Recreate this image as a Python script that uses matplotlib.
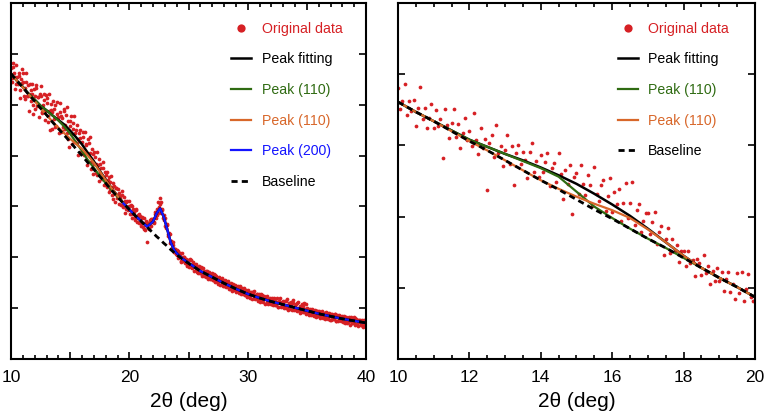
import numpy as np
import matplotlib
matplotlib.use("Agg")
import matplotlib.pyplot as plt
from matplotlib.ticker import MultipleLocator

plt.rcParams['font.family'] = ['Liberation Sans', 'DejaVu Sans']

RED = '#d62024'
GREEN = '#2f6b12'
ORANGE = '#d8672a'
BLUE = '#1414ff'

# ---------------- left panel (10-40 deg) ----------------
left_x = [10, 10.5, 11, 11.5, 12, 12.5, 13, 13.5, 14, 14.5, 15, 15.5, 16, 16.5, 17, 17.5,
          18, 18.5, 19, 19.5, 20, 20.5, 21, 21.5, 22, 22.3, 22.6, 22.9, 23.2, 23.5, 23.8,
          24, 24.5, 25, 26, 27, 28, 29, 30, 31, 32, 33, 34, 35, 36, 37, 38, 39, 40]
left_baseline = [5.61, 5.47, 5.34, 5.20, 5.07, 4.93, 4.80, 4.66, 4.53, 4.40, 4.27, 4.13, 4.00,
                 3.86, 3.73, 3.59, 3.46, 3.32, 3.19, 3.06, 2.94, 2.82, 2.71, 2.59, 2.48, 2.41,
                 2.35, 2.28, 2.22, 2.15, 2.09, 2.05, 1.96, 1.88, 1.73, 1.61, 1.49, 1.38, 1.28,
                 1.20, 1.13, 1.07, 1.01, 0.95, 0.89, 0.84, 0.79, 0.75, 0.71]
left_fit = [5.61, 5.47, 5.35, 5.21, 5.10, 4.98, 4.89, 4.79, 4.70, 4.61, 4.49, 4.36, 4.22,
            4.05, 3.89, 3.70, 3.53, 3.36, 3.21, 3.07, 2.94, 2.82, 2.71, 2.60, 2.70, 2.86,
            2.96, 2.80, 2.55, 2.29, 2.14, 2.08, 1.97, 1.89, 1.73, 1.61, 1.49, 1.38, 1.28,
            1.20, 1.13, 1.07, 1.01, 0.95, 0.89, 0.84, 0.79, 0.75, 0.71]

# the two (110) components only over 10-20
left_x110 = [10, 10.5, 11, 11.5, 12, 12.5, 13, 13.5, 14, 14.5, 15, 15.5, 16, 16.5, 17, 17.5,
             18, 18.5, 19, 19.5, 20]
left_green = [5.61, 5.47, 5.35, 5.21, 5.10, 4.98, 4.89, 4.79, 4.69, 4.57, 4.43, 4.26, 4.09,
              3.91, 3.76, 3.60, 3.46, 3.32, 3.19, 3.06, 2.94]
left_orange = [5.61, 5.47, 5.34, 5.20, 5.07, 4.93, 4.80, 4.67, 4.55, 4.44, 4.33, 4.23, 4.13,
               4.00, 3.86, 3.69, 3.52, 3.36, 3.21, 3.07, 2.94]

# (200) component from 19.5 on
left_x200 = [19.5, 20, 20.5, 21, 21.5, 22, 22.3, 22.6, 22.9, 23.2, 23.5, 23.8, 24, 24.5, 25,
             26, 27, 28, 29, 30, 31, 32, 33, 34, 35, 36, 37, 38, 39, 40]
left_blue = [3.06, 2.94, 2.82, 2.71, 2.60, 2.70, 2.86, 2.96, 2.80, 2.55, 2.29, 2.14, 2.08,
             1.97, 1.89, 1.73, 1.61, 1.49, 1.38, 1.28, 1.20, 1.13, 1.07, 1.01, 0.95, 0.89,
             0.84, 0.79, 0.75, 0.71]

# measured points, 0.05 deg step (two interleaved scans)
left_data_x = np.linspace(10, 40, 301)
left_data_y = [
    5.73, 5.53, 5.75, 5.55, 5.40, 5.55, 5.43, 5.57, 5.28, 5.42,
    5.45, 5.18, 5.33, 5.44, 5.18, 5.21, 5.41, 5.07, 5.21, 4.82,
    5.18, 5.33, 4.98, 5.16, 4.98, 5.17, 4.84, 4.99, 5.21, 4.87,
    5.03, 4.77, 4.88, 4.51, 5.01, 4.85, 4.72, 4.99, 4.59, 4.82,
    4.74, 4.85, 4.46, 4.74, 4.57, 4.87, 4.61, 4.45, 4.68, 4.16,
    4.59, 4.42, 4.65, 4.28, 4.45, 4.51, 4.25, 4.32, 4.51, 4.08,
    4.27, 4.37, 4.04, 4.21, 4.05, 4.32, 3.88, 4.06, 3.73, 4.04,
    3.83, 3.98, 3.83, 3.62, 3.94, 3.66, 3.76, 3.53, 3.75, 3.56,
    3.61, 3.38, 3.51, 3.57, 3.32, 3.39, 3.15, 3.40, 3.25, 3.36,
    3.16, 3.27, 3.17, 3.03, 3.23, 3.04, 3.10, 2.94, 3.10, 2.95,
    3.01, 2.86, 3.00, 2.85, 2.90, 2.73, 2.92, 2.78, 2.68, 2.81,
    2.67, 2.77, 2.56, 2.67, 2.71, 2.30, 2.67, 2.58, 2.75, 2.69,
    2.75, 2.69, 2.89, 2.83, 3.08, 2.98, 3.16, 2.87, 2.92, 2.73,
    2.78, 2.58, 2.63, 2.42, 2.45, 2.32, 2.18, 2.24, 2.11, 2.17,
    2.04, 2.13, 2.01, 2.06, 1.91, 2.00, 2.01, 1.88, 1.93, 1.84,
    1.94, 1.84, 1.94, 1.78, 1.85, 1.87, 1.75, 1.81, 1.69, 1.79,
    1.70, 1.78, 1.66, 1.73, 1.69, 1.61, 1.73, 1.63, 1.68, 1.58,
    1.65, 1.55, 1.66, 1.55, 1.59, 1.48, 1.59, 1.54, 1.47, 1.56,
    1.44, 1.51, 1.53, 1.42, 1.47, 1.38, 1.47, 1.39, 1.44, 1.36,
    1.43, 1.35, 1.40, 1.29, 1.37, 1.39, 1.28, 1.33, 1.25, 1.33,
    1.25, 1.32, 1.20, 1.28, 1.32, 1.20, 1.26, 1.20, 1.27, 1.16,
    1.24, 1.16, 1.25, 1.13, 1.19, 1.22, 1.13, 1.09, 1.18, 1.15,
    1.09, 1.17, 1.10, 1.18, 1.06, 1.13, 1.03, 1.13, 1.10, 1.05,
    1.12, 1.03, 1.14, 1.01, 1.07, 1.10, 0.98, 1.06, 1.11, 1.00,
    1.05, 0.96, 1.10, 0.97, 1.05, 0.93, 1.00, 1.04, 0.93, 1.08,
    0.92, 0.99, 0.88, 0.95, 0.89, 0.96, 0.84, 0.94, 0.88, 0.95,
    0.84, 0.91, 0.86, 0.93, 0.81, 0.88, 0.82, 0.90, 0.82, 0.85,
    0.88, 0.78, 0.85, 0.79, 0.88, 0.75, 0.84, 0.78, 0.84, 0.74,
    0.82, 0.73, 0.83, 0.76, 0.71, 0.81, 0.74, 0.82, 0.71, 0.78,
    0.71, 0.80, 0.68, 0.76, 0.72, 0.77, 0.66, 0.75, 0.67, 0.74,
    0.68]
left_data2_x = np.linspace(10.05, 39.95, 300)
left_data2_y = [
    5.45, 5.82, 5.62, 5.30, 5.79, 5.41, 5.62, 5.13, 5.51, 5.71,
    5.62, 5.11, 5.63, 5.17, 5.38, 4.88, 5.28, 5.41, 4.99, 5.31,
    4.91, 5.39, 5.16, 4.76, 5.21, 5.37, 4.85, 5.10, 4.70, 5.20,
    5.13, 4.66, 5.22, 4.90, 4.52, 5.08, 4.91, 4.57, 5.06, 4.76,
    4.44, 5.03, 4.78, 4.49, 4.92, 4.52, 4.80, 4.95, 4.33, 4.68,
    4.78, 4.23, 4.53, 4.78, 4.26, 4.60, 4.02, 4.44, 4.35, 4.06,
    4.47, 4.02, 4.47, 4.22, 3.82, 4.24, 4.37, 3.87, 4.12, 3.63,
    4.07, 3.65, 4.08, 3.82, 3.50, 3.84, 3.57, 3.87, 3.43, 3.67,
    3.42, 3.68, 3.29, 3.49, 3.60, 3.23, 3.47, 3.09, 3.36, 3.17,
    3.34, 3.05, 3.20, 3.30, 2.99, 3.18, 2.88, 3.09, 2.93, 3.11,
    2.85, 3.03, 2.77, 2.94, 2.80, 2.95, 2.69, 2.83, 2.86, 2.62,
    2.80, 2.60, 2.77, 2.53, 2.66, 2.68, 2.56, 2.74, 2.61, 2.76,
    2.67, 2.86, 2.78, 2.94, 2.88, 3.05, 3.08, 2.94, 2.77, 2.84,
    2.62, 2.66, 2.45, 2.48, 2.29, 2.32, 2.30, 2.11, 2.17, 2.06,
    2.15, 1.99, 2.08, 1.92, 2.08, 1.92, 2.01, 1.97, 1.83, 1.95,
    1.81, 1.96, 1.81, 1.90, 1.74, 1.85, 1.87, 1.71, 1.83, 1.69,
    1.80, 1.64, 1.79, 1.64, 1.74, 1.71, 1.58, 1.71, 1.57, 1.70,
    1.55, 1.67, 1.51, 1.63, 1.51, 1.62, 1.45, 1.57, 1.59, 1.44,
    1.56, 1.41, 1.52, 1.54, 1.38, 1.49, 1.34, 1.48, 1.35, 1.45,
    1.31, 1.44, 1.31, 1.43, 1.27, 1.37, 1.39, 1.25, 1.36, 1.22,
    1.35, 1.21, 1.32, 1.18, 1.29, 1.33, 1.17, 1.27, 1.14, 1.28,
    1.13, 1.27, 1.14, 1.24, 1.09, 1.21, 1.23, 1.10, 1.20, 1.08,
    1.20, 1.06, 1.19, 1.06, 1.19, 1.03, 1.15, 1.19, 1.02, 1.15,
    1.01, 1.15, 1.00, 1.17, 0.97, 1.10, 1.13, 0.96, 1.16, 0.97,
    1.09, 0.94, 1.12, 1.01, 0.91, 1.08, 0.92, 1.11, 0.99, 0.89,
    1.01, 0.87, 0.98, 0.87, 0.99, 0.87, 0.97, 0.82, 0.95, 0.85,
    0.94, 0.81, 0.94, 0.82, 0.91, 0.78, 0.93, 0.79, 0.90, 0.77,
    0.77, 0.89, 0.78, 0.89, 0.74, 0.86, 0.75, 0.87, 0.76, 0.85,
    0.73, 0.85, 0.70, 0.83, 0.72, 0.83, 0.67, 0.80, 0.70, 0.82,
    0.67, 0.79, 0.69, 0.65, 0.77, 0.66, 0.76, 0.62, 0.77, 0.65]

# ---------------- right panel (10-20 deg) ----------------
right_x = [10, 10.5, 11, 11.5, 12, 12.5, 13, 13.5, 14, 14.5, 15, 15.5, 16, 16.5, 17, 17.5,
           18, 18.5, 19, 19.5, 20]
right_baseline = [3.61, 3.47, 3.34, 3.20, 3.06, 2.93, 2.79, 2.65, 2.51, 2.38, 2.24, 2.10,
                  1.97, 1.83, 1.69, 1.56, 1.42, 1.28, 1.14, 1.01, 0.87]
right_fit = [3.61, 3.47, 3.34, 3.21, 3.08, 2.98, 2.88, 2.79, 2.69, 2.58, 2.46, 2.32, 2.17,
             2.01, 1.83, 1.64, 1.45, 1.28, 1.14, 1.01, 0.87]
right_green = [3.61, 3.47, 3.34, 3.21, 3.08, 2.98, 2.88, 2.78, 2.68, 2.56, 2.35, 2.14, 1.98,
               1.83, 1.69, 1.56, 1.42, 1.28, 1.14, 1.01, 0.87]
right_orange = [3.61, 3.47, 3.34, 3.20, 3.06, 2.93, 2.79, 2.65, 2.51, 2.39, 2.28, 2.18, 2.09,
                1.98, 1.82, 1.64, 1.45, 1.28, 1.14, 1.01, 0.87]

right_data_x = np.linspace(10, 20, 161)
right_data_y = [
    3.81, 3.51, 3.63, 3.86, 3.42, 3.63, 3.48, 3.64, 3.27, 3.52, 3.82, 3.37, 3.53, 3.24, 3.39, 3.58,
    3.24, 3.50, 3.27, 3.37, 2.83, 3.51, 3.29, 3.11, 3.31, 3.51, 3.12, 3.30, 2.96, 3.17, 3.39, 3.08,
    3.20, 2.99, 3.46, 3.07, 2.88, 3.24, 2.96, 3.09, 2.38, 3.03, 3.14, 2.84, 3.28, 2.89, 2.99, 2.71,
    2.93, 3.15, 2.74, 2.99, 2.45, 2.90, 3.01, 2.74, 2.91, 2.79, 2.54, 2.91, 3.04, 2.63, 2.78, 2.55,
    2.87, 2.63, 2.76, 2.90, 2.43, 2.68, 2.75, 2.49, 2.90, 2.60, 2.25, 2.65, 2.46, 2.72, 2.04, 2.56,
    2.61, 2.32, 2.72, 2.46, 2.31, 2.59, 2.45, 2.15, 2.70, 2.32, 2.22, 2.44, 2.52, 2.08, 2.29, 2.54,
    2.07, 2.35, 2.18, 2.39, 1.94, 2.19, 2.47, 1.98, 2.19, 2.48, 1.88, 2.09, 2.17, 1.78, 1.94, 2.05,
    2.05, 1.75, 1.93, 2.06, 1.62, 1.79, 1.87, 1.46, 1.69, 1.84, 1.49, 1.69, 1.51, 1.60, 1.36, 1.52,
    1.51, 1.31, 1.51, 1.35, 1.39, 1.17, 1.41, 1.35, 1.18, 1.46, 1.21, 1.30, 1.06, 1.24, 1.09, 1.28,
    1.09, 1.22, 0.95, 1.13, 1.22, 0.94, 1.06, 0.84, 1.21, 0.93, 1.22, 0.81, 0.99, 1.20, 0.87, 0.81,
    0.83]


def style_axes(ax, xmin, xmax, ymax, major, minor, labels_every):
    ax.set_xlim(xmin, xmax)
    ax.set_ylim(0, ymax)
    ax.xaxis.set_major_locator(MultipleLocator(major))
    ax.xaxis.set_minor_locator(MultipleLocator(minor))
    ax.yaxis.set_major_locator(MultipleLocator(1))
    ax.tick_params(which='both', direction='in', top=True, right=True, width=1.2)
    ax.tick_params(which='major', length=5, labelsize=12.5, pad=8)
    ax.tick_params(which='minor', length=3)
    ax.set_yticklabels([])
    ax.xaxis.set_major_formatter(
        plt.FuncFormatter(lambda v, p: f"{v:g}" if abs(v / labels_every - round(v / labels_every)) < 1e-6 else ""))
    for s in ax.spines.values():
        s.set_linewidth(1.5)
    ax.set_xlabel("2θ (deg)", fontsize=15, labelpad=5)


def add_legend(ax, handles, x0):
    leg = ax.legend(handles=handles, loc='upper left', bbox_to_anchor=(x0, 0.948),
                    frameon=False, fontsize=10.2, handlelength=1.4, handletextpad=0.75,
                    labelspacing=1.18, borderpad=0, borderaxespad=0, numpoints=1,
                    markerscale=2.2, labelcolor='linecolor')
    return leg


fig = plt.figure(figsize=(7.67, 4.19), dpi=100)
ax1 = fig.add_axes([11 / 767, 60 / 419, 355 / 767, 356 / 419])
ax2 = fig.add_axes([398 / 767, 60 / 419, 357 / 767, 356 / 419])

dash = (0, (2.2, 1.5))

# left
d1, = ax1.plot(left_data_x, left_data_y, 'o', color=RED, ms=2.7, mew=0, label='Original data')
ax1.plot(left_data2_x, left_data2_y, 'o', color=RED, ms=2.7, mew=0)
f1, = ax1.plot(left_x, left_fit, color='black', lw=1.8, label='Peak fitting')
g1, = ax1.plot(left_x110, left_green, color=GREEN, lw=1.6, label='Peak (110)')
o1, = ax1.plot(left_x110, left_orange, color=ORANGE, lw=1.6, label='Peak (110)')
b1, = ax1.plot(left_x200, left_blue, color=BLUE, lw=1.6, label='Peak (200)')
bl1, = ax1.plot(left_x, left_baseline, color='black', lw=2.0, ls=dash, label='Baseline')
style_axes(ax1, 10, 40, 7, 5, 1, 10)
add_legend(ax1, [d1, f1, g1, o1, b1, bl1], 0.62)

# right
d2, = ax2.plot(right_data_x, right_data_y, 'o', color=RED, ms=2.7, mew=0, label='Original data')
f2, = ax2.plot(right_x, right_fit, color='black', lw=1.8, label='Peak fitting')
g2, = ax2.plot(right_x, right_green, color=GREEN, lw=1.6, label='Peak (110)')
o2, = ax2.plot(right_x, right_orange, color=ORANGE, lw=1.6, label='Peak (110)')
bl2, = ax2.plot(right_x, right_baseline, color='black', lw=2.0, ls=dash, label='Baseline')
style_axes(ax2, 10, 20, 5, 2, 0.5, 2)
add_legend(ax2, [d2, f2, g2, o2, bl2], 0.616)

fig.savefig('out.png', dpi=100)
